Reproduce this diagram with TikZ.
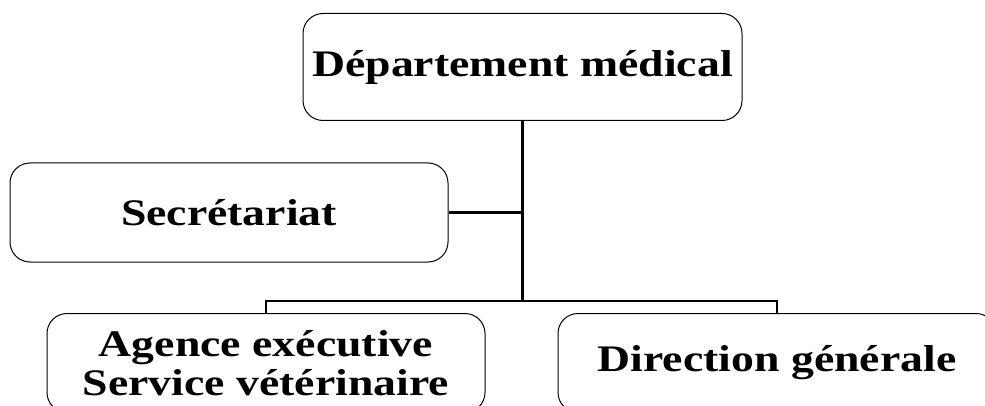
\documentclass[tikz,border=0pt]{standalone}
\usepackage{fontspec}
\setmainfont{Liberation Serif}
\newfontfamily\orgfont[FakeStretch=1.22]{Liberation Serif}
\usepackage{tikz}
\usetikzlibrary{positioning}
\tikzstyle{link} = [line width=2.8pt]

\begin{document}
\begin{tikzpicture}[x=1pt, y=1pt, box/.style={draw, line width=1pt, rounded corners=20pt, align=center, font=\orgfont\bfseries\fontsize{37.5}{39}\selectfont, inner sep=0pt}]
    \useasboundingbox (0,0) rectangle (985,405);
    \node[box, minimum width=439pt, minimum height=107pt] (dep) at (522.5,338) {Département médical};
    \node[box, minimum width=438pt, minimum height=99pt] (sec) at (229,192.5) {Secrétariat};
    \node[box, minimum width=438pt, minimum height=99pt] (age) at (266,42) {Agence exécutive\\ Service vétérinaire};
    \node[box, minimum width=438pt, minimum height=99pt] (dir) at (777,42) {Direction générale};
    \coordinate (bus) at (522.5,104);
    \draw[link] (dep.south) -- (bus);
    \draw[link] (sec.east) -- (sec.east -| bus);
    \draw[link] (age.north) |- (bus) -| (dir.north);
\end{tikzpicture}
\end{document}
